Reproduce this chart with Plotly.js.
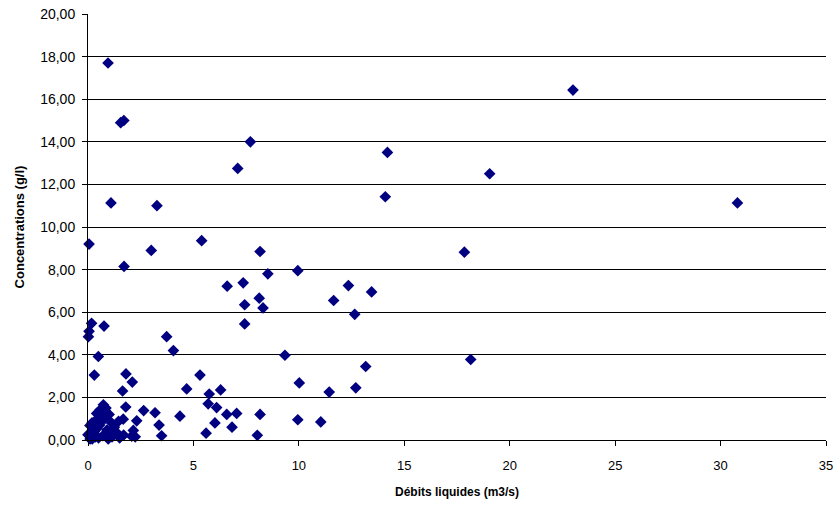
<!DOCTYPE html>
<html>
<head>
<meta charset="utf-8">
<script src="https://cdn.plot.ly/plotly-3.0.1.min.js"></script>
<style>html,body{margin:0;padding:0;background:#fff;}#chart{width:840px;height:506px;}</style>
</head>
<body>
<div id="chart"></div>
<script>
// Débits liquides (m3/s)
const debits = [
  0.95, 1.55, 1.7, 1.09, 3.27, 0.05, 3.0, 1.71, 23.0, 30.8,
  19.05, 14.2, 14.1, 7.7, 7.1, 17.85, 18.15, 5.39, 8.16, 8.53,
  6.6, 7.36, 8.12, 9.95, 7.43, 8.3, 7.43, 12.35, 13.45, 11.65,
  12.65, 9.34, 13.17, 10.02, 12.7, 11.44, 9.95, 11.04, 5.31, 5.75,
  6.29, 5.7, 6.1, 6.58, 7.05, 8.16, 6.02, 6.83, 5.6, 8.03,
  0.17, 0.76, 0.05, 0.02, 3.73, 4.05, 0.49, 0.3, 1.8, 2.1,
  1.64, 4.68, 4.36, 3.49, 3.37, 3.18, 2.64, 1.79, 0.73, 0.41,
  1.67, 2.31, 2.15, 2.07, 0.09, 0.0, 0.1, 1.12, 1.36, 0.96,
  0.58, 0.19, 1.45, 0.03, 1.14, 2.24, 0.43, 0.9, 1.69, 0.6,
  0.7, 0.5, 0.3, 0.8, 1.0, 0.65, 1.25, 0.35, 0.2, 1.5, 0.55,
  0.85, 0.62, 0.4, 1.05
];
// Concentrations (g/l)
const concentrations = [
  17.7, 14.9, 15.0, 11.13, 11.0, 9.2, 8.9, 8.15, 16.43, 11.13,
  12.5, 13.5, 11.42, 14.0, 12.75, 8.82, 3.78, 9.36, 8.85, 7.8,
  7.22, 7.38, 6.66, 7.95, 6.35, 6.2, 5.45, 7.25, 6.95, 6.55,
  5.9, 3.98, 3.45, 2.68, 2.45, 2.25, 0.95, 0.85, 3.05, 2.16,
  2.35, 1.7, 1.52, 1.2, 1.25, 1.2, 0.8, 0.6, 0.32, 0.22,
  5.48, 5.35, 5.1, 4.85, 4.85, 4.2, 3.92, 3.05, 3.1, 2.72,
  2.3, 2.4, 1.12, 0.2, 0.7, 1.28, 1.38, 1.55, 1.65, 1.25,
  0.98, 0.9, 0.45, 0.18, 0.68, 0.25, 0.05, 0.8, 0.35, 0.05,
  1.42, 0.8, 0.88, 0.23, 0.15, 0.15, 0.55, 0.47, 0.23, 0.9,
  0.2, 0.1, 0.4, 1.0, 1.2, 1.3, 0.6, 0.15, 0.05, 0.1, 0.7,
  1.5, 1.1, 0.95, 0.3
];
const xTitle = '<b>Débits liquides (m3/s)</b>';
const yTitle = '<b>Concentrations (g/l)</b>';

const trace = {
  x: debits,
  y: concentrations,
  type: 'scatter',
  mode: 'markers',
  marker: {symbol: 'diamond', size: 9, color: '#000080', line: {width: 0}},
  cliponaxis: false,
  hoverinfo: 'x+y'
};

const layout = {
  width: 840,
  height: 506,
  margin: {l: 88, r: 14, t: 14, b: 66},
  paper_bgcolor: '#ffffff',
  plot_bgcolor: '#ffffff',
  separators: ', ',
  showlegend: false,
  font: {family: 'Liberation Sans, Arial, sans-serif', size: 13, color: '#000'},
  xaxis: {
    range: [0, 35],
    dtick: 5,
    tick0: 0,
    showgrid: false,
    zeroline: false,
    showline: true,
    linecolor: '#000',
    linewidth: 1,
    ticks: 'outside',
    ticklen: 5,
    tickcolor: '#000',
    ticklabelstandoff: 8,
    tickfont: {size: 13},
    title: {text: xTitle, font: {size: 12, family: 'Liberation Sans, Arial, sans-serif'}, standoff: 16}
  },
  yaxis: {
    range: [0, 20],
    dtick: 2,
    tick0: 0,
    tickformat: '.2f',
    showgrid: true,
    gridcolor: '#000',
    gridwidth: 1,
    zeroline: false,
    showline: true,
    linecolor: '#000',
    linewidth: 1,
    ticks: 'outside',
    ticklen: 5,
    tickcolor: '#000',
    ticklabelstandoff: 4,
    tickfont: {size: 14},
    title: {text: yTitle, font: {size: 13, family: 'Liberation Sans, Arial, sans-serif'}, standoff: 12}
  }
};

Plotly.newPlot('chart', [trace], layout, {staticPlot: true, displayModeBar: false});
</script>
</body>
</html>
